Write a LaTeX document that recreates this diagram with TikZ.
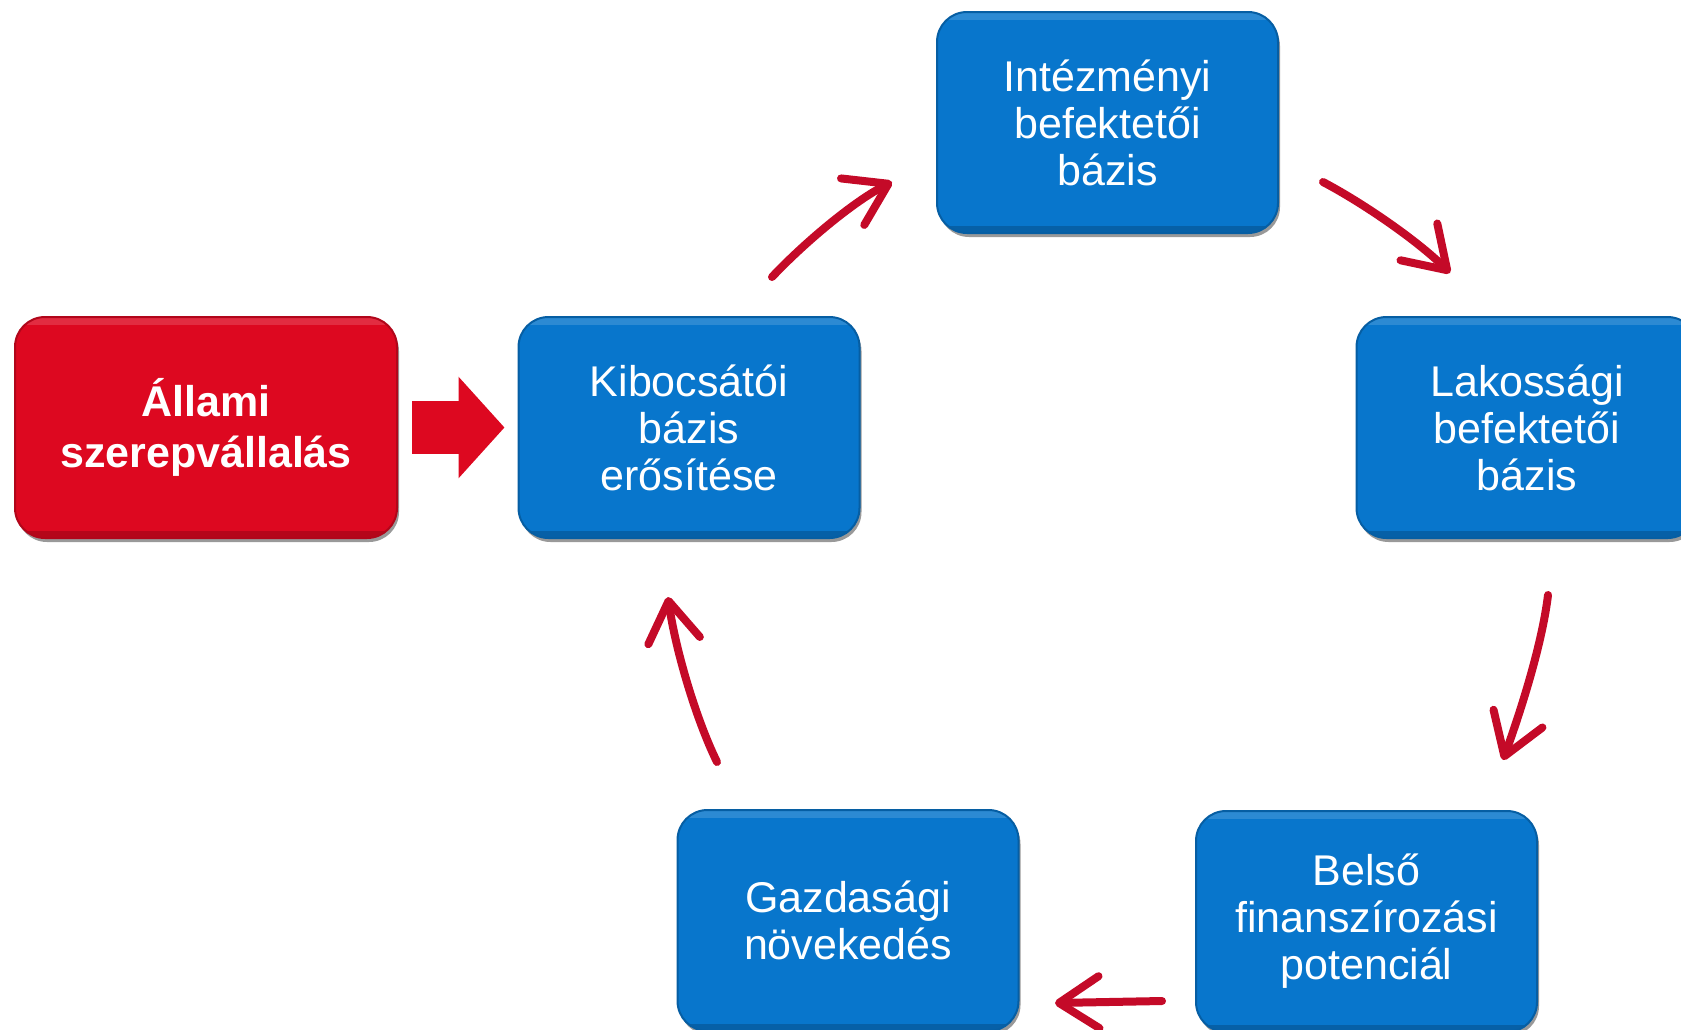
\documentclass[tikz,border=0pt]{standalone}
\usepackage{fontspec}
\setmainfont{Liberation Sans}
\usetikzlibrary{arrows.meta,shadows}
\definecolor{boxblue}{RGB}{8,118,204}
\definecolor{boxred}{RGB}{221,8,32}
\definecolor{arrred}{RGB}{196,10,40}
\begin{document}
\begin{tikzpicture}[x=1pt,y=-1pt,
  box/.style={rounded corners=30pt, inner sep=0pt, minimum height=221pt, align=center, text=white,
    font=\fontsize{43}{47}\selectfont, line width=2pt,
    drop shadow={shadow xshift=2pt, shadow yshift=-4pt, opacity=0.4, fill=black},
    path picture={
      \fill[sharp corners,white,opacity=0.15] (path picture bounding box.north west) rectangle ([yshift=-8pt]path picture bounding box.north east);
      \fill[sharp corners,black,opacity=0.18] ([yshift=7pt]path picture bounding box.south west) rectangle (path picture bounding box.south east);
    }},
  bluebox/.style={box, minimum width=341pt, fill=boxblue, draw=boxblue!80!black},
  redbox/.style={box, minimum width=382pt, fill=boxred, draw=boxred!80!black, font=\bfseries\fontsize{43}{51}\selectfont},
  curvearrow/.style={draw=arrred, line width=8pt, line cap=round, -{Straight Barb[length=40pt,width=52pt,round]}},
  blockarrow/.style={draw=boxred, line width=53pt, -{Triangle[length=46pt,width=99pt]}},
]
\useasboundingbox (0,0) rectangle (1681,1029);

\node[redbox] (state) at (206,427.5) {Állami\\szerepvállalás};
\node[bluebox] (kib) at (689,427.5) {Kibocsátói\\bázis\\erősítése};
\node[bluebox] (int) at (1107.5,122.5) {Intézményi\\befektetői\\bázis};
\node[bluebox] (lak) at (1527,427.5) {Lakossági\\befektetői\\bázis};
\node[bluebox] (bel) at (1366.5,921.5) {Belső\\finanszírozási\\potenciál};
\node[bluebox] (gaz) at (848,920.5) {Gazdasági\\növekedés};

\draw[blockarrow, shorten <=14pt, shorten >=13pt] (state) -- (kib);

\coordinate (a1s) at (772,277);
\coordinate (a1e) at (892,182);
\coordinate (a2s) at (1323,182);
\coordinate (a2e) at (1450,273);
\coordinate (a3s) at (1548,595);
\coordinate (a3e) at (1503,760);
\coordinate (a4s) at (1162,1001);
\coordinate (a4e) at (1055,1003);
\coordinate (a5s) at (717,762);
\coordinate (a5e) at (668,597);

\draw[curvearrow] (a1s) .. controls (807,240) and (856,200) .. (a1e);
\draw[curvearrow] (a2s) .. controls (1363,203) and (1418,241) .. (a2e);
\draw[curvearrow] (a3s) .. controls (1542,645) and (1520,713) .. (a3e);
\draw[curvearrow] (a4s) -- (a4e);
\draw[curvearrow] (a5s) .. controls (695,717) and (675,647) .. (a5e);
\end{tikzpicture}
\end{document}
